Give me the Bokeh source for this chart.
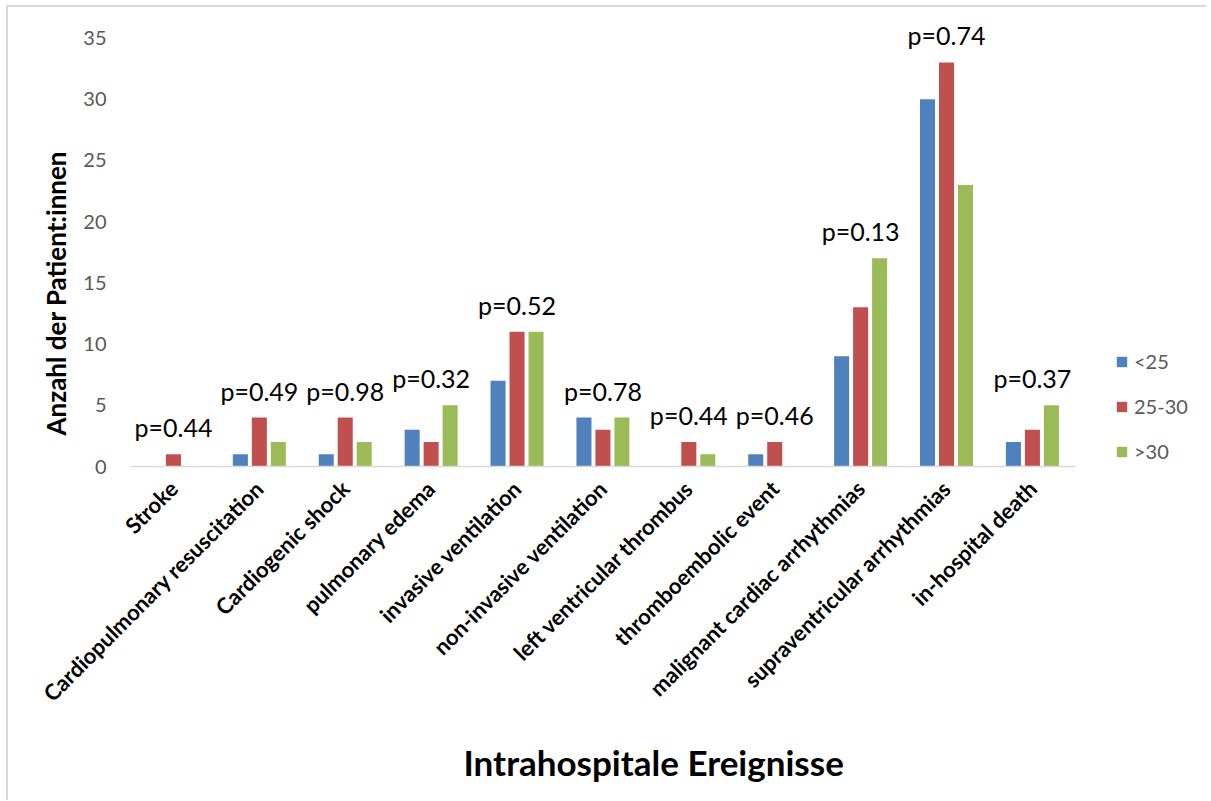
from math import pi
from bokeh.plotting import figure
from bokeh.models import (Range1d, ColumnDataSource, Legend, LegendItem,
                          Title, FixedTicker)
from bokeh.core.properties import value
from bokeh.embed import file_html
from bokeh.resources import INLINE

categories = ["Stroke", "Cardiopulmonary resuscitation", "Cardiogenic shock",
              "pulmonary edema", "invasive ventilation", "non-invasive ventilation",
              "left ventricular thrombus", "thromboembolic event",
              "malignant cardiac arrhythmias", "supraventricular arrhythmias",
              "in-hospital death"]
under25 = [0, 1, 1, 3, 7, 4, 0, 1, 9, 30, 2]
from25to30 = [1, 4, 4, 2, 11, 3, 2, 2, 13, 33, 3]
over30 = [0, 2, 2, 5, 11, 4, 1, 0, 17, 23, 5]
p_values = ["p=0.44", "p=0.49", "p=0.98", "p=0.32", "p=0.52", "p=0.78",
            "p=0.44", "p=0.46", "p=0.13", "p=0.74", "p=0.37"]
series_names = ["<25", "25-30", ">30"]
series_colors = ["#4F81BD", "#C0504D", "#9BBB59"]
y_ticks = [0, 5, 10, 15, 20, 25, 30, 35]

FONT = "Lato"
n = len(categories)
centers = [i + 0.5 for i in range(n)]
offsets = [-0.221, 0.0, 0.221]

source = ColumnDataSource(data=dict(
    xc=centers,
    x0=[c + offsets[0] for c in centers],
    x1=[c + offsets[1] for c in centers],
    x2=[c + offsets[2] for c in centers],
    s0=under25,
    s1=from25to30,
    s2=over30,
    ymax=[max(a, b, c) for a, b, c in zip(under25, from25to30, over30)],
    plabel=p_values,
))

p = figure(x_range=Range1d(0, 12.55), y_range=Range1d(0, 37),
           width=1200, height=795, output_backend="svg", toolbar_location=None,
           min_border_left=122, min_border_right=0, min_border_top=6,
           min_border_bottom=0)
p.styles = {"border-left": "2px solid #d9d9d9", "border-top": "2px solid #d9d9d9",
            "margin-left": "6px", "margin-top": "5px"}

renderers = []
for i, color in enumerate(series_colors):
    r = p.vbar(x="x%d" % i, top="s%d" % i, width=0.175, source=source,
               fill_color=color, line_color=None)
    renderers.append(r)

p.text(x="xc", y="ymax", text="plabel", source=source, text_align="center",
       text_baseline="middle", y_offset=-27, text_font=value(FONT),
       text_font_size="25px", text_color="black")

p.xgrid.visible = False
p.ygrid.visible = False
p.outline_line_color = None

p.xaxis.ticker = FixedTicker(ticks=centers)
p.xaxis.major_label_overrides = {c: name for c, name in zip(centers, categories)}
p.xaxis.bounds = (0, n)
p.xaxis.axis_line_color = "#d9d9d9"
p.xaxis.axis_line_width = 1.5
p.xaxis.major_tick_line_color = None
p.xaxis.minor_tick_line_color = None
p.xaxis.major_label_orientation = pi / 4
p.xaxis.major_label_text_font = FONT
p.xaxis.major_label_text_font_style = "bold"
p.xaxis.major_label_text_font_size = "22px"
p.xaxis.major_label_text_color = "black"
p.xaxis.major_label_standoff = 12

p.yaxis.ticker = FixedTicker(ticks=y_ticks)
p.yaxis.axis_line_color = None
p.yaxis.major_tick_line_color = None
p.yaxis.minor_tick_line_color = None
p.yaxis.major_label_text_font = FONT
p.yaxis.major_label_text_font_size = "20px"
p.yaxis.major_label_text_color = "#595959"
p.yaxis.major_label_standoff = 18

legend = Legend(items=[LegendItem(label=nm, renderers=[r]) for nm, r in zip(series_names, renderers)],
                location=(985, 3), orientation="vertical", glyph_width=13, glyph_height=13,
                label_height=20, spacing=21, padding=0, margin=0, border_line_color=None,
                background_fill_alpha=0, label_text_font=FONT, label_text_font_size="20px",
                label_text_color="#595959", label_standoff=6)
p.add_layout(legend, "center")

ytitle = Title(text="Anzahl der Patient:innen", align="left", offset=31,
               text_font=FONT, text_font_style="bold", text_font_size="26px",
               text_color="black", standoff=18)
xtitle = Title(text="Intrahospitale Ereignisse", align="left", offset=333,
               text_font=FONT, text_font_style="bold", text_font_size="35px",
               text_color="black", standoff=39)
p.add_layout(ytitle, "left")
p.add_layout(xtitle, "below")

open("out.html", "w").write(file_html(p, INLINE))
